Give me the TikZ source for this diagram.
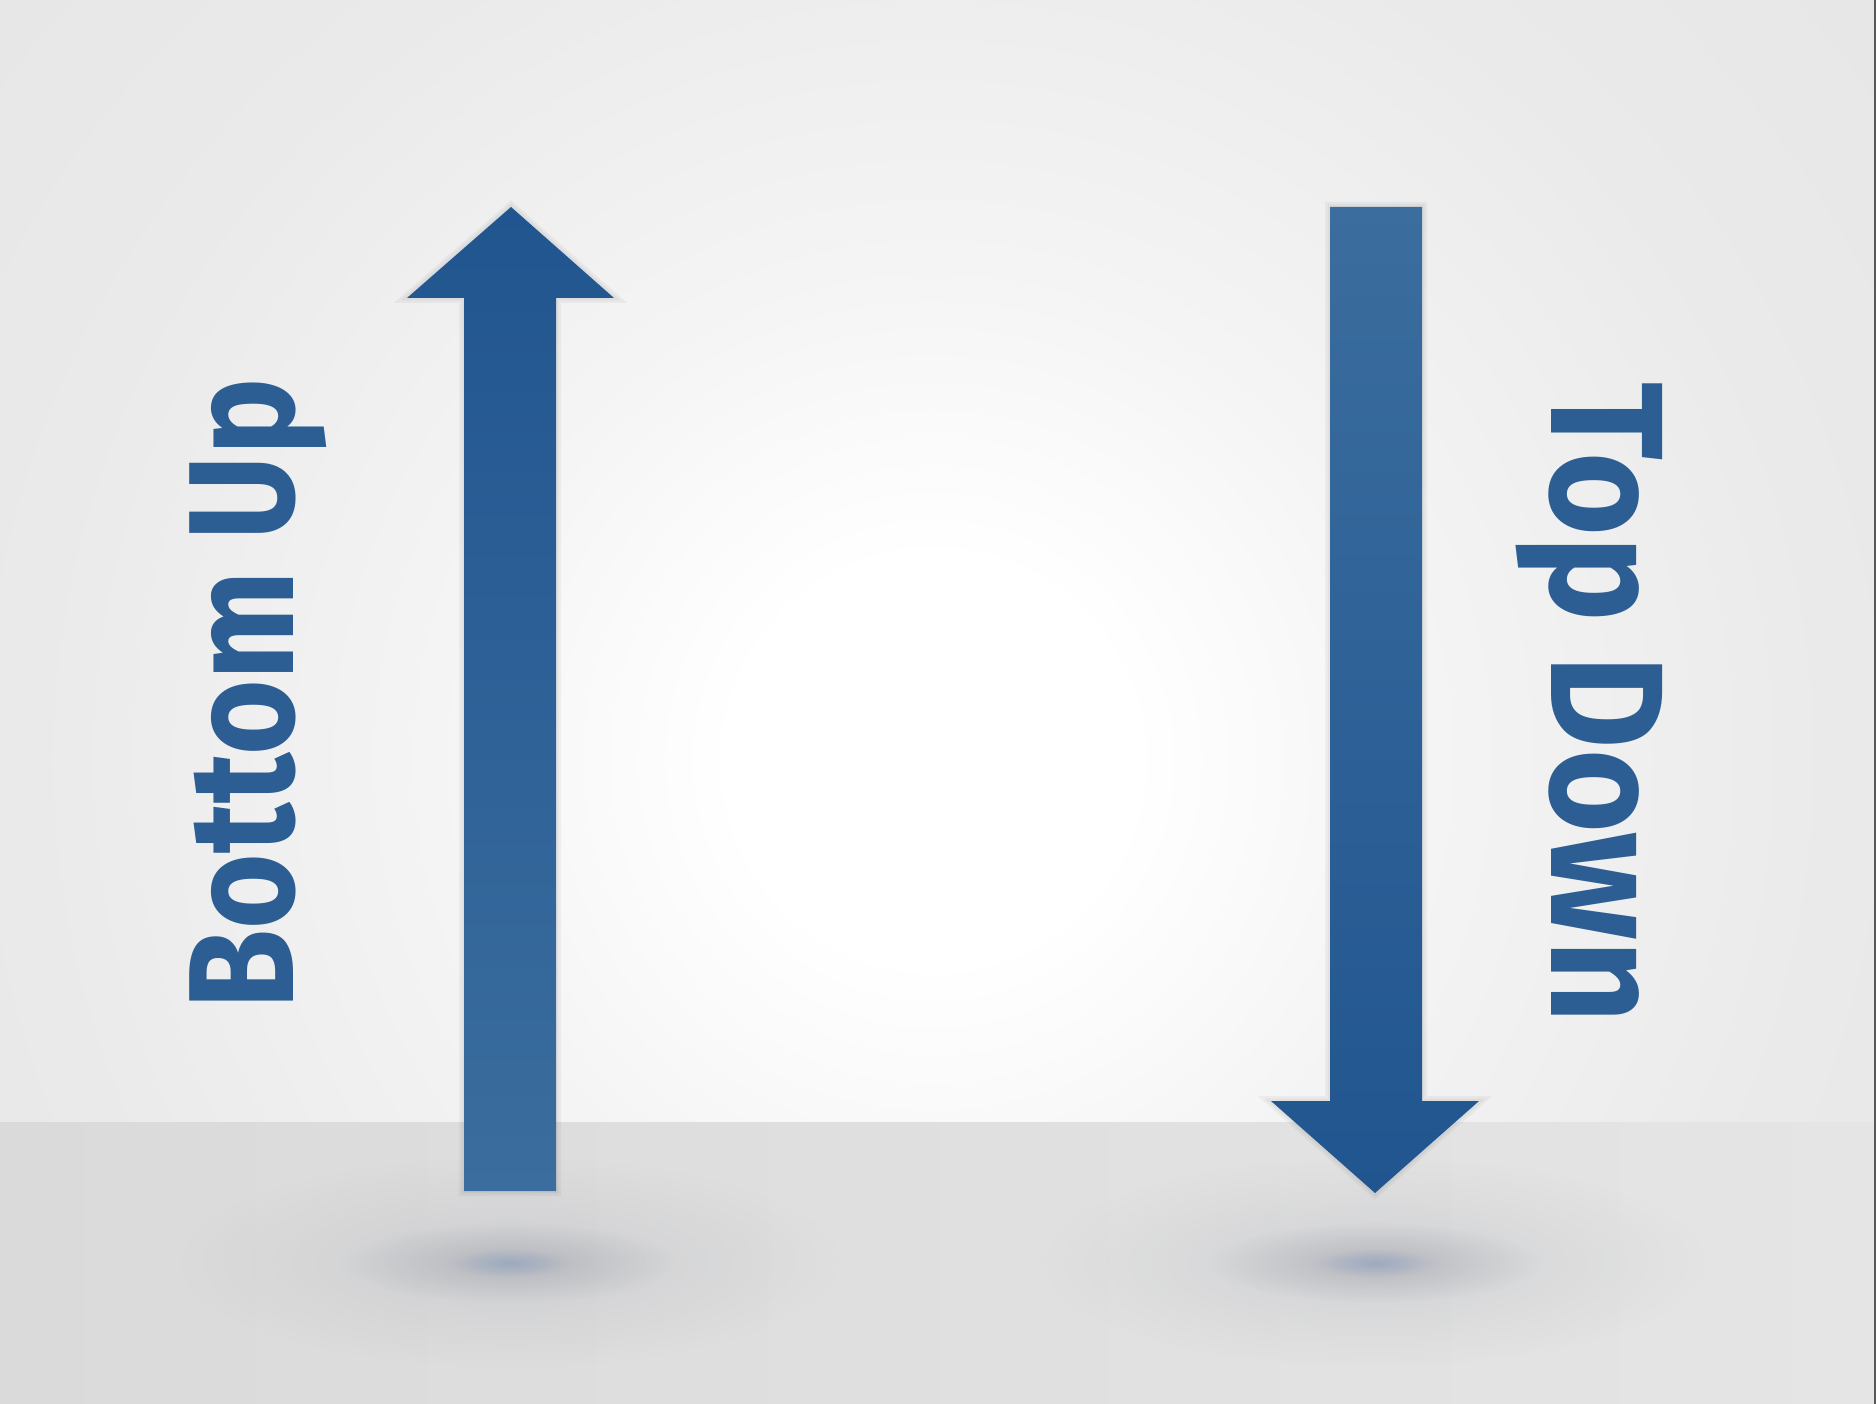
\documentclass[tikz,border=0pt]{standalone}
\usepackage{fontspec}
\setsansfont{Fira Sans}
\usetikzlibrary{fadings}
\definecolor{arrowdark}{HTML}{21558F}
\definecolor{arrowlight}{HTML}{3B6D9E}
\definecolor{labelblue}{HTML}{2C5D93}
\definecolor{wallgray}{HTML}{E0E0E0}
\definecolor{wallfar}{HTML}{E2E2E2}
\definecolor{walldim}{HTML}{E5E5E5}
\definecolor{wallmid}{HTML}{EAEAEA}
\definecolor{wallsoft}{HTML}{F4F4F4}
\definecolor{floorleft}{HTML}{DADADA}
\definecolor{floorright}{HTML}{E5E5E5}
\definecolor{shadowgray}{HTML}{A9ACB4}
\definecolor{shadowblue}{HTML}{7F9CC6}
\definecolor{edgegray}{HTML}{585858}
\pgfdeclareradialshading{wallglow}{\pgfpoint{0bp}{0bp}}{color(0bp)=(white); color(4bp)=(white); color(10bp)=(wallsoft); color(18bp)=(wallmid); color(28bp)=(walldim); color(40bp)=(wallfar); color(50bp)=(wallgray)}
\tikzfading[name=shadowfade, inner color=transparent!0, outer color=transparent!100]
\tikzset{>=stealth}

\begin{document}
\begin{tikzpicture}[x=0.01cm, y=-0.01cm,
    label text/.style={inner sep=0pt, text=labelblue},
    halo/.style={draw=black, line join=miter, draw opacity=0.04}]
            \useasboundingbox (0,0) rectangle (1876,1404);
            \begin{scope}
            \clip (0,0) rectangle (1876,1404);
            \fill[wallgray] (0,0) rectangle (1876,1404);
            \shade[shading=wallglow] (933-1250,760-1250) rectangle (933+1250,760+1250);
            \shade[left color=floorleft, right color=floorright] (0,1122) rectangle (1876,1404);
            \end{scope}
            \fill[edgegray] (1874,0) rectangle (1876,1404);

            \foreach \cx in {510,1375} {
                \fill[shadowgray, path fading=shadowfade, fill opacity=0.3] (\cx,1262) ellipse (330 and 105);
                \fill[shadowgray, path fading=shadowfade, fill opacity=0.7] (\cx,1263) ellipse (165 and 40);
                \fill[shadowblue, path fading=shadowfade, fill opacity=0.45] (\cx,1263) ellipse (60 and 14);
            }

            \coordinate (uptip) at (511,207);
            \coordinate (downtip) at (1375,1193);

            \foreach \w in {0.1cm,0.05cm} {
                \draw[halo, line width=\w] (uptip) -- (614,298) -- (556,298) -- (556,1191) -- (464,1191) -- (464,298) -- (407,298) -- cycle;
                \draw[halo, line width=\w] (downtip) -- (1479,1101) -- (1422,1101) -- (1422,207) -- (1330,207) -- (1330,1101) -- (1271,1101) -- cycle;
            }
            \shade[top color=arrowdark, bottom color=arrowlight] (uptip) -- (614,298) -- (556,298) -- (556,1191) -- (464,1191) -- (464,298) -- (407,298) -- cycle;
            \shade[top color=arrowlight, bottom color=arrowdark] (downtip) -- (1479,1101) -- (1422,1101) -- (1422,207) -- (1330,207) -- (1330,1101) -- (1271,1101) -- cycle;

            \node[label text, font=\sffamily\bfseries\fontsize{42.6pt}{42.6pt}\selectfont, rotate=90, xscale=0.865, anchor=base west] (bottomup) at (293,1010) {Bottom Up};
            \node[label text, font=\sffamily\bfseries\fontsize{45.6pt}{45.6pt}\selectfont, rotate=-90, xscale=0.895, anchor=base west] (topdown) at (1551,382) {Top Down};
\end{tikzpicture}
\end{document}
